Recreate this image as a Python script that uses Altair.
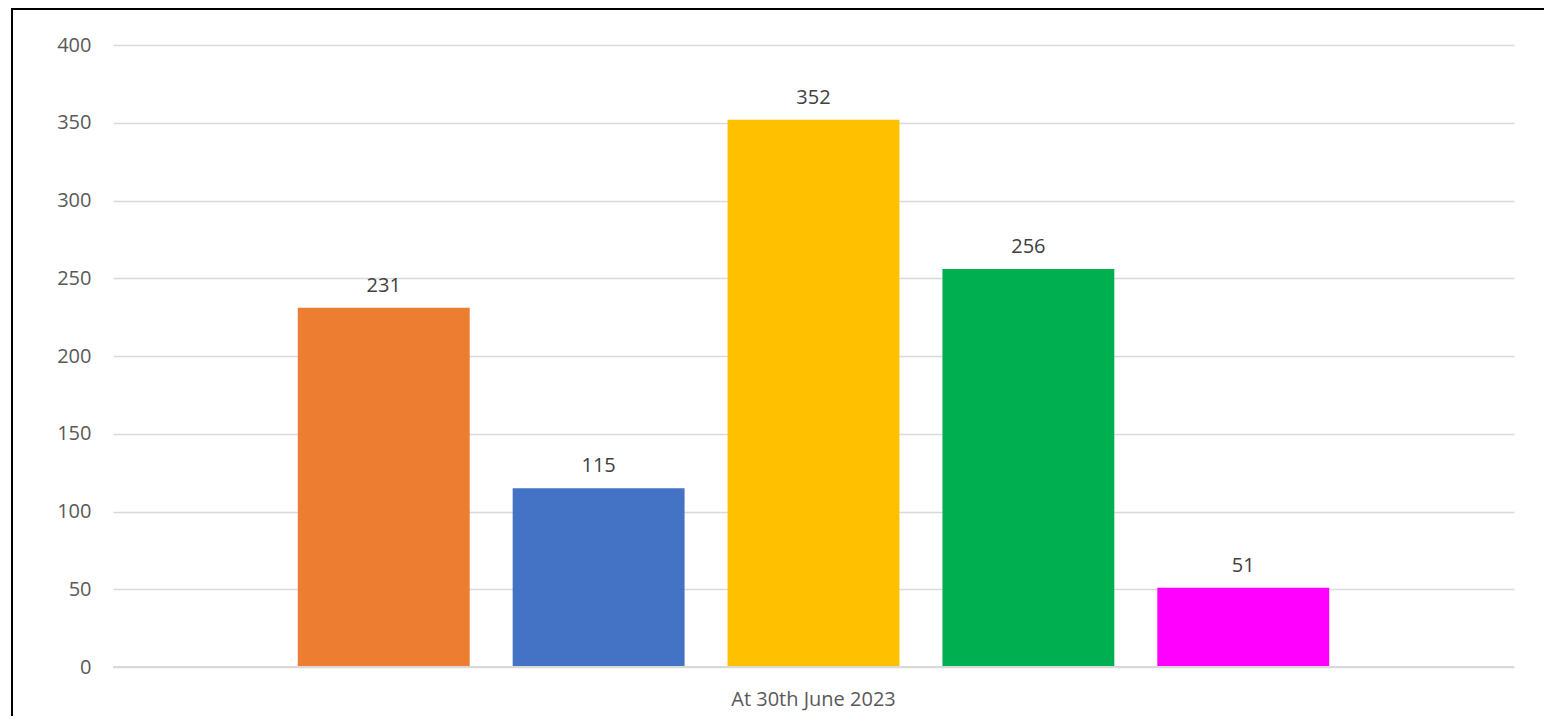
import altair as alt
import pandas as pd

category = ["At 30th June 2023"] * 5
series = ["Series 1", "Series 2", "Series 3", "Series 4", "Series 5"]
values = [231, 115, 352, 256, 51]
colors = ["#ED7D31", "#4472C4", "#FFC000", "#00B050", "#FF00FF"]

df = pd.DataFrame({"cat": category, "series": series, "value": values})

FONT = "Open Sans"
W, H = 1401, 622

x_enc = alt.X("cat:N", title=None,
              scale=alt.Scale(paddingOuter=0.152, paddingInner=0),
              axis=alt.Axis(labelAngle=0, labelFontSize=20, labelColor="#595959",
                            labelFont=FONT, ticks=False, domain=False, grid=False,
                            labelPadding=22))
xo_enc = alt.XOffset("series:N", sort=series,
                     scale=alt.Scale(paddingInner=0.2, paddingOuter=0.1))
y_enc = alt.Y("value:Q", title=None,
              scale=alt.Scale(domain=[0, 400]),
              axis=alt.Axis(values=list(range(0, 401, 50)), labelFontSize=20,
                            labelColor="#595959", labelFont=FONT, ticks=False,
                            domain=False, labelPadding=22, gridColor="#d9d9d9",
                            gridWidth=1.5))

bars = alt.Chart(df).mark_bar().encode(
    x=x_enc, xOffset=xo_enc, y=y_enc,
    color=alt.Color("series:N", sort=series,
                    scale=alt.Scale(domain=series, range=colors), legend=None),
)

labels = alt.Chart(df).mark_text(
    baseline="alphabetic", dy=-16, fontSize=20, font=FONT, color="#404040"
).encode(x=x_enc, xOffset=xo_enc, y=y_enc, text=alt.Text("value:Q"))

zero = alt.Chart(alt.Data(values=[{"v": 0}])).mark_rule(
    color="#d9d9d9", strokeWidth=2
).encode(y=alt.Y("v:Q", scale=alt.Scale(domain=[0, 400])))

frame_left = alt.Chart(alt.Data(values=[{}])).mark_rule(
    color="black", strokeWidth=2
).encode(x=alt.value(-101), y=alt.value(-37), y2=alt.value(H + 60))

frame_top = alt.Chart(alt.Data(values=[{}])).mark_rule(
    color="black", strokeWidth=2
).encode(x=alt.value(-102), x2=alt.value(W + 40), y=alt.value(-36))

chart = alt.layer(bars, zero, labels, frame_left, frame_top).properties(
    width=W, height=H,
    background="white",
    autosize=alt.AutoSizeParams(type="none"),
    padding={"left": 105, "top": 37, "right": 30, "bottom": 49},
).configure_view(strokeWidth=0, stroke="transparent")

chart.save("out.html", embed_options={"renderer": "svg", "actions": False})
